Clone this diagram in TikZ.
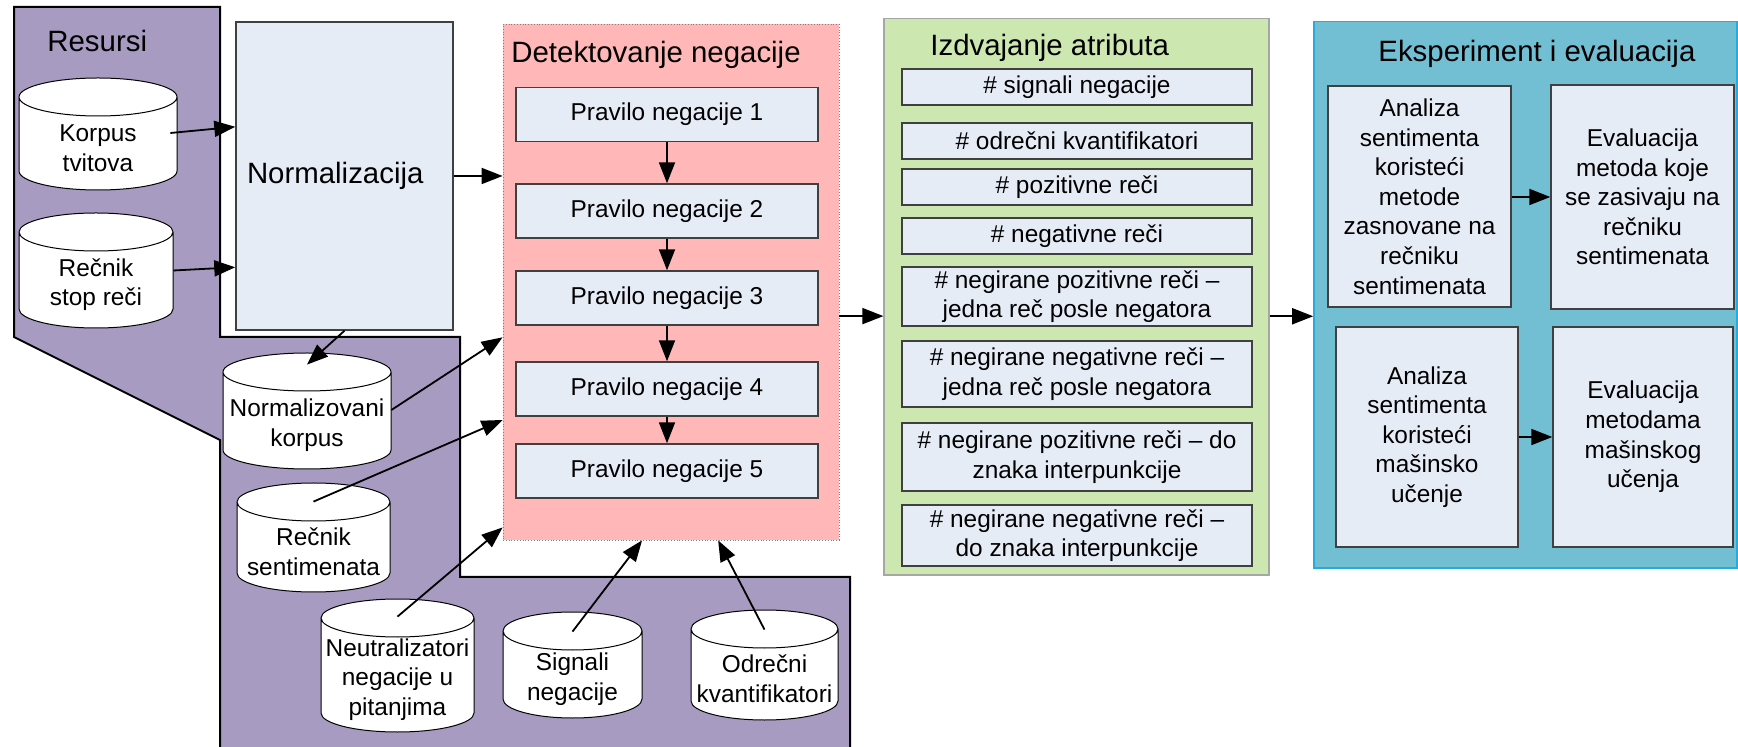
\documentclass[tikz,border=0pt]{standalone}
\usepackage{fontspec}
\setmainfont{Liberation Sans}
\usetikzlibrary{arrows.meta,calc,positioning}
\definecolor{resursi}{RGB}{168,155,193}
\definecolor{okvir}{RGB}{230,236,246}
\definecolor{detekt}{RGB}{255,183,183}
\definecolor{izdv}{RGB}{205,231,176}
\definecolor{eksp}{RGB}{114,190,211}
\definecolor{ekspline}{RGB}{40,170,220}
\tikzset{
	box/.style={draw=black!75,line width=0.7pt,fill=okvir,align=center,inner sep=1pt,font=\fontsize{12.2}{14.8}\selectfont},
	store/.style={align=center,inner sep=0pt,font=\fontsize{12.2}{14.8}\selectfont},
	naslov/.style={inner sep=0pt,anchor=base west,font=\fontsize{14.7}{17}\selectfont},
	arr/.style={line width=0.9pt,-{Triangle[length=10.5pt,width=8pt]}}
}
% baza: ime, x, vrh, dno, sirina, tekst
\newcommand{\baza}[6]{%
	\filldraw[fill=white,line width=0.5pt] (#2-#5/2,#3+19) -- (#2-#5/2,#4-19) arc[start angle=180,end angle=360,x radius=#5*0.25pt,y radius=9.5pt] -- (#2+#5/2,#3+19) arc[start angle=0,end angle=180,x radius=#5*0.25pt,y radius=9.5pt] arc[start angle=180,end angle=360,x radius=#5*0.25pt,y radius=9.5pt];
	\node[store,minimum width=#5*0.5pt,minimum height={(#4-#3-28)*0.5pt}] (#1) at (#2,{(#3+#4)/2+14}) {#6};
}
\begin{document}
\begin{tikzpicture}[x=0.5pt,y=-0.5pt]
		\useasboundingbox (0,0) rectangle (1738,747);
		\filldraw[fill=resursi,draw=black,line width=1pt] (14,7)--(220,7)--(220,337)--(460,337)--(460,577)--(850,577)--(850,752)--(220,752)--(220,440)--(14,337)--cycle;
		\path (47,52) node[naslov]{Resursi};
		\node[box,inner xsep=5.5pt,text width=97.5pt,align=left,minimum height=154pt,font=\fontsize{14.7}{17}\selectfont] (norm) at (344.5,176) {Normalizacija};
		\baza{korpus}{98}{78}{190}{158}{Korpus\\tvitova}
		\baza{stopw}{96}{213}{328}{154}{Rečnik\\stop reči}
		\baza{normk}{307}{353}{469}{168}{Normalizovani\\korpus}
		\baza{sentlex}{313.5}{483}{592}{153}{Rečnik\\sentimenata}
		\baza{neutr}{397.5}{599}{732}{153}{Neutralizatori\\negacije u\\pitanjima}
		\baza{signali}{572.5}{612}{718}{139}{Signali\\negacije}
		\baza{odrecni}{764.5}{610}{720}{147}{Odrečni\\kvantifikatori}
		% detektovanje
		\node[draw=black!50,densely dotted,line width=0.4pt,fill=detekt,minimum width=168pt,minimum height=258pt] (det) at (671,282) {};
		\path (511,62.5) node[naslov]{Detektovanje negacije};
		\foreach \i/\y in {1/114.5,2/211,3/298,4/389,5/471}
			\node[box,minimum width=151pt,minimum height=27pt] (p\i) at (667,\y) {Pravilo negacije \i};
		\foreach \i [evaluate=\i as \j using int(\i+1)] in {1,...,4}
			\draw[arr] (p\i) -- (p\j);
		% izdvajanje
		\node[draw=black!35,line width=0.6pt,fill=izdv,minimum width=192.5pt,minimum height=278.25pt] (izd) at (1076.5,296.75) {};
		\path (930,55.5) node[naslov]{Izdvajanje atributa};
		\foreach \i/\y/\h/\t in {1/87/18/{\# signali negacije},2/141/18/{\# odrečni kvantifikatori},3/187/18/{\# pozitivne reči},4/236/18/{\# negativne reči},5/296.5/29.5/{\# negirane pozitivne reči –\\jedna reč posle negatora},6/374/33/{\# negirane negativne reči –\\jedna reč posle negatora},7/457/34/{\# negirane pozitivne reči – do\\znaka interpunkcije},8/535.5/30.5/{\# negirane negativne reči –\\do znaka interpunkcije}}
			\node[box,minimum width=175pt,minimum height=\h pt] (a\i) at (1077,\y) {\t};
		% eksperiment
		\node[draw=ekspline,line width=0.8pt,fill=eksp,minimum width=211.5pt,minimum height=273.25pt] (eks) at (1525.5,294.75) {};
		\path (1378,62) node[naslov]{Eksperiment i evaluacija};
		\node[box,minimum width=91.5pt,minimum height=110.5pt] (an1) at (1419.5,196.5) {Analiza\\sentimenta\\koristeći\\metode\\zasnovane na\\rečniku\\sentimenata};
		\node[box,minimum width=91.5pt,minimum height=112pt] (ev1) at (1642.5,197) {Evaluacija\\metoda koje\\se zasivaju na\\rečniku\\sentimenata};
		\node[box,minimum width=91pt,minimum height=110pt] (an2) at (1427,437) {Analiza\\sentimenta\\koristeći\\mašinsko\\učenje};
		\node[box,minimum width=90pt,minimum height=110pt] (ev2) at (1643,437) {Evaluacija\\metodama\\mašinskog\\učenja};
		\draw[arr] (an1.east |- 0,197) -- (ev1.west |- 0,197);
		\draw[arr] (an2) -- (an2 -| ev2.west);
		% veze
		\draw[arr] ($(korpus.east)+(-7,-15)$) -- ($(norm.north west)!0.341!(norm.south west)$);
		\draw[arr] ($(stopw.east)+(0,-14)$) -- ($(norm.north west)!0.795!(norm.south west)$);
		\draw[arr] (norm.south) -- ($(normk.north)+(0,-16)$);
		\draw[arr] (norm) -- (norm -| det.west);
		\draw[arr] ($(normk.east)+(0,-15)$) -- ($(det.north west)!0.607!(det.south west)$);
		\draw[arr] ($(sentlex.north)+(0,-9)$) -- ($(det.north west)!0.767!(det.south west)$);
		\draw[arr] ($(neutr.north)+(0,-10)$) -- ($(det.north west)!0.975!(det.south west)$);
		\draw[arr] ($(signali.north)+(0,-8)$) -- ($(det.south west)!0.414!(det.south east)$);
		\draw[arr] ($(odrecni.north)+(0,-8)$) -- ($(det.south west)!0.64!(det.south east)$);
		\draw[arr] ($(det.north east)!0.566!(det.south east)$) coordinate (dz) -- (dz -| izd.west);
		\draw[arr] ($(izd.north east)!0.535!(izd.south east)$) coordinate (iz) -- (iz -| eks.west);
\end{tikzpicture}
\end{document}
